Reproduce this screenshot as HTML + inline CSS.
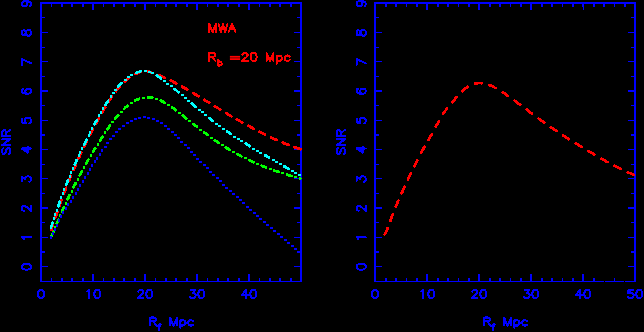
<!DOCTYPE html>
<html><head><meta charset="utf-8">
<title>SNR vs filter radius (MWA, R_b = 20 Mpc)</title>
<style>
html,body{margin:0;padding:0;background:#000;}
body{width:644px;height:332px;overflow:hidden;}
svg{display:block;}
.c{fill:none;stroke-width:2.5;stroke-linecap:round;stroke-linejoin:round;}
.g{fill:none;stroke-width:2.0;stroke-linecap:round;stroke-linejoin:round;}
.h text{font-family:"Liberation Sans",sans-serif;font-weight:bold;font-size:13px;fill:#00f;fill-opacity:0;}
</style></head>
<body>
<svg width="644" height="332" viewBox="0 0 644 332" role="img" aria-label="Two panels of SNR versus filter radius R_f in Mpc for MWA with bubble radius R_b = 20 Mpc">
<defs>
<filter id="th" x="0" y="0" width="644" height="332" filterUnits="userSpaceOnUse" color-interpolation-filters="sRGB">
<feComponentTransfer><feFuncA type="discrete" tableValues="0 1"/></feComponentTransfer>
</filter>
<filter id="tc" x="0" y="0" width="644" height="332" filterUnits="userSpaceOnUse" color-interpolation-filters="sRGB">
<feComponentTransfer><feFuncA type="discrete" tableValues="0 1 1"/></feComponentTransfer>
</filter>
</defs>
<rect x="0" y="0" width="644" height="332" fill="#000"/>
<!-- frames and tick marks -->
<g fill="#00f" shape-rendering="crispEdges">
<rect x="40" y="2" width="262" height="2"/>
<rect x="40" y="281" width="262" height="1"/>
<rect x="40" y="2" width="2" height="280"/>
<rect x="300" y="2" width="2" height="280"/>
<rect x="51" y="4" width="1" height="3"/>
<rect x="51" y="278" width="1" height="3"/>
<rect x="61" y="4" width="2" height="3"/>
<rect x="61" y="278" width="2" height="3"/>
<rect x="71" y="4" width="2" height="3"/>
<rect x="71" y="278" width="2" height="3"/>
<rect x="82" y="4" width="2" height="3"/>
<rect x="82" y="278" width="2" height="3"/>
<rect x="92" y="4" width="2" height="6"/>
<rect x="92" y="274" width="2" height="7"/>
<rect x="103" y="4" width="1" height="3"/>
<rect x="103" y="278" width="1" height="3"/>
<rect x="113" y="4" width="2" height="3"/>
<rect x="113" y="278" width="2" height="3"/>
<rect x="123" y="4" width="2" height="3"/>
<rect x="123" y="278" width="2" height="3"/>
<rect x="134" y="4" width="2" height="3"/>
<rect x="134" y="278" width="2" height="3"/>
<rect x="144" y="4" width="2" height="6"/>
<rect x="144" y="274" width="2" height="7"/>
<rect x="155" y="4" width="1" height="3"/>
<rect x="155" y="278" width="1" height="3"/>
<rect x="165" y="4" width="2" height="3"/>
<rect x="165" y="278" width="2" height="3"/>
<rect x="175" y="4" width="2" height="3"/>
<rect x="175" y="278" width="2" height="3"/>
<rect x="186" y="4" width="2" height="3"/>
<rect x="186" y="278" width="2" height="3"/>
<rect x="196" y="4" width="2" height="6"/>
<rect x="196" y="274" width="2" height="7"/>
<rect x="207" y="4" width="1" height="3"/>
<rect x="207" y="278" width="1" height="3"/>
<rect x="217" y="4" width="2" height="3"/>
<rect x="217" y="278" width="2" height="3"/>
<rect x="227" y="4" width="2" height="3"/>
<rect x="227" y="278" width="2" height="3"/>
<rect x="238" y="4" width="2" height="3"/>
<rect x="238" y="278" width="2" height="3"/>
<rect x="248" y="4" width="2" height="6"/>
<rect x="248" y="274" width="2" height="7"/>
<rect x="259" y="4" width="1" height="3"/>
<rect x="259" y="278" width="1" height="3"/>
<rect x="269" y="4" width="2" height="3"/>
<rect x="269" y="278" width="2" height="3"/>
<rect x="279" y="4" width="2" height="3"/>
<rect x="279" y="278" width="2" height="3"/>
<rect x="290" y="4" width="2" height="3"/>
<rect x="290" y="278" width="2" height="3"/>
<rect x="42" y="266" width="6" height="1"/>
<rect x="294" y="266" width="6" height="1"/>
<rect x="42" y="251" width="3" height="2"/>
<rect x="297" y="251" width="3" height="2"/>
<rect x="42" y="237" width="6" height="1"/>
<rect x="294" y="237" width="6" height="1"/>
<rect x="42" y="222" width="3" height="1"/>
<rect x="297" y="222" width="3" height="1"/>
<rect x="42" y="207" width="6" height="2"/>
<rect x="294" y="207" width="6" height="2"/>
<rect x="42" y="193" width="3" height="1"/>
<rect x="297" y="193" width="3" height="1"/>
<rect x="42" y="178" width="6" height="1"/>
<rect x="294" y="178" width="6" height="1"/>
<rect x="42" y="164" width="3" height="1"/>
<rect x="297" y="164" width="3" height="1"/>
<rect x="42" y="149" width="6" height="1"/>
<rect x="294" y="149" width="6" height="1"/>
<rect x="42" y="134" width="3" height="2"/>
<rect x="297" y="134" width="3" height="2"/>
<rect x="42" y="120" width="6" height="1"/>
<rect x="294" y="120" width="6" height="1"/>
<rect x="42" y="105" width="3" height="1"/>
<rect x="297" y="105" width="3" height="1"/>
<rect x="42" y="90" width="6" height="2"/>
<rect x="294" y="90" width="6" height="2"/>
<rect x="42" y="76" width="3" height="1"/>
<rect x="297" y="76" width="3" height="1"/>
<rect x="42" y="61" width="6" height="1"/>
<rect x="294" y="61" width="6" height="1"/>
<rect x="42" y="47" width="3" height="1"/>
<rect x="297" y="47" width="3" height="1"/>
<rect x="42" y="32" width="6" height="1"/>
<rect x="294" y="32" width="6" height="1"/>
<rect x="42" y="17" width="3" height="1"/>
<rect x="297" y="17" width="3" height="1"/>
<rect x="374" y="2" width="262" height="2"/>
<rect x="374" y="281" width="262" height="1"/>
<rect x="374" y="2" width="2" height="280"/>
<rect x="634" y="2" width="2" height="280"/>
<rect x="385" y="4" width="2" height="3"/>
<rect x="385" y="278" width="2" height="3"/>
<rect x="395" y="4" width="2" height="3"/>
<rect x="395" y="278" width="2" height="3"/>
<rect x="406" y="4" width="1" height="3"/>
<rect x="406" y="278" width="1" height="3"/>
<rect x="416" y="4" width="2" height="3"/>
<rect x="416" y="278" width="2" height="3"/>
<rect x="426" y="4" width="2" height="6"/>
<rect x="426" y="274" width="2" height="7"/>
<rect x="437" y="4" width="2" height="3"/>
<rect x="437" y="278" width="2" height="3"/>
<rect x="447" y="4" width="2" height="3"/>
<rect x="447" y="278" width="2" height="3"/>
<rect x="458" y="4" width="1" height="3"/>
<rect x="458" y="278" width="1" height="3"/>
<rect x="468" y="4" width="2" height="3"/>
<rect x="468" y="278" width="2" height="3"/>
<rect x="478" y="4" width="2" height="6"/>
<rect x="478" y="274" width="2" height="7"/>
<rect x="489" y="4" width="2" height="3"/>
<rect x="489" y="278" width="2" height="3"/>
<rect x="499" y="4" width="2" height="3"/>
<rect x="499" y="278" width="2" height="3"/>
<rect x="510" y="4" width="1" height="3"/>
<rect x="510" y="278" width="1" height="3"/>
<rect x="520" y="4" width="2" height="3"/>
<rect x="520" y="278" width="2" height="3"/>
<rect x="530" y="4" width="2" height="6"/>
<rect x="530" y="274" width="2" height="7"/>
<rect x="541" y="4" width="2" height="3"/>
<rect x="541" y="278" width="2" height="3"/>
<rect x="551" y="4" width="2" height="3"/>
<rect x="551" y="278" width="2" height="3"/>
<rect x="562" y="4" width="1" height="3"/>
<rect x="562" y="278" width="1" height="3"/>
<rect x="572" y="4" width="2" height="3"/>
<rect x="572" y="278" width="2" height="3"/>
<rect x="582" y="4" width="2" height="6"/>
<rect x="582" y="274" width="2" height="7"/>
<rect x="593" y="4" width="2" height="3"/>
<rect x="593" y="278" width="2" height="3"/>
<rect x="603" y="4" width="2" height="3"/>
<rect x="603" y="278" width="2" height="3"/>
<rect x="614" y="4" width="1" height="3"/>
<rect x="614" y="278" width="1" height="3"/>
<rect x="624" y="4" width="2" height="3"/>
<rect x="624" y="278" width="2" height="3"/>
<rect x="376" y="266" width="6" height="1"/>
<rect x="628" y="266" width="6" height="1"/>
<rect x="376" y="251" width="3" height="2"/>
<rect x="631" y="251" width="3" height="2"/>
<rect x="376" y="237" width="6" height="1"/>
<rect x="628" y="237" width="6" height="1"/>
<rect x="376" y="222" width="3" height="1"/>
<rect x="631" y="222" width="3" height="1"/>
<rect x="376" y="207" width="6" height="2"/>
<rect x="628" y="207" width="6" height="2"/>
<rect x="376" y="193" width="3" height="1"/>
<rect x="631" y="193" width="3" height="1"/>
<rect x="376" y="178" width="6" height="1"/>
<rect x="628" y="178" width="6" height="1"/>
<rect x="376" y="164" width="3" height="1"/>
<rect x="631" y="164" width="3" height="1"/>
<rect x="376" y="149" width="6" height="1"/>
<rect x="628" y="149" width="6" height="1"/>
<rect x="376" y="134" width="3" height="2"/>
<rect x="631" y="134" width="3" height="2"/>
<rect x="376" y="120" width="6" height="1"/>
<rect x="628" y="120" width="6" height="1"/>
<rect x="376" y="105" width="3" height="1"/>
<rect x="631" y="105" width="3" height="1"/>
<rect x="376" y="90" width="6" height="2"/>
<rect x="628" y="90" width="6" height="2"/>
<rect x="376" y="76" width="3" height="1"/>
<rect x="631" y="76" width="3" height="1"/>
<rect x="376" y="61" width="6" height="1"/>
<rect x="628" y="61" width="6" height="1"/>
<rect x="376" y="47" width="3" height="1"/>
<rect x="631" y="47" width="3" height="1"/>
<rect x="376" y="32" width="6" height="1"/>
<rect x="628" y="32" width="6" height="1"/>
<rect x="376" y="17" width="3" height="1"/>
<rect x="631" y="17" width="3" height="1"/>
</g>
<g fill="#000" shape-rendering="crispEdges"><rect x="603" y="278" width="2" height="3"/><rect x="604" y="278" width="1" height="4"/><rect x="624" y="278" width="2" height="3"/><rect x="624" y="278" width="1" height="4"/><rect x="582" y="7" width="1" height="3"/></g>
<!-- data curves -->
<g filter="url(#tc)"><path class="c" stroke="#f00" d="M51.3,229.8 L51.6,228.8 L51.9,227.8 L52.2,226.8 L52.6,225.9 L52.9,224.9 L53.2,223.9M55.3,217.6 L55.6,216.6 L55.9,215.7 L56.3,214.7 L56.6,213.7 L56.9,212.7 L57.3,211.8M59.5,205.5 L59.8,204.6 L60.1,203.6 L60.5,202.6 L60.9,201.6 L61.2,200.7 L61.6,199.7M63.9,193.5 L64.2,192.6 L64.6,191.6 L65.0,190.6 L65.4,189.7 L65.7,188.7 L66.1,187.7M68.6,181.6 L69.0,180.6 L69.3,179.7 L69.7,178.7 L70.1,177.8 L70.5,176.8 L70.9,175.9M73.5,169.8 L73.9,168.9 L74.3,167.9 L74.8,167.0 L75.2,166.0 L75.6,165.1 L76.0,164.1M78.7,158.1 L79.2,157.2 L79.6,156.2 L80.0,155.3 L80.5,154.4 L80.9,153.4 L81.4,152.5M84.2,146.6 L84.7,145.6 L85.1,144.7 L85.6,143.8 L86.1,142.8 L86.5,141.9 L87.0,141.0M90.0,135.1 L90.4,134.2 L90.9,133.3 L91.4,132.3 L91.8,131.4 L92.3,130.5 L92.8,129.6M95.9,123.8 L96.4,122.9 L96.9,121.9 L97.3,121.0 L97.8,120.1 L98.3,119.2 L98.8,118.3M102.1,112.6 L102.6,111.7 L103.1,110.8 L103.6,109.9 L104.1,109.0 L104.7,108.1 L105.2,107.2M108.7,101.6 L109.3,100.7 L109.8,99.9 L110.4,99.0 L111.0,98.2 L111.5,97.3 L112.1,96.4M116.0,91.1 L116.7,90.3 L117.3,89.5 L118.0,88.7 L118.6,87.9 L119.3,87.1 L120.0,86.4M124.6,81.6 L125.4,81.0 L126.1,80.3 L126.9,79.6 L127.7,79.0 L128.6,78.3 L129.4,77.7M135.0,74.2 L135.9,73.7 L136.8,73.3 L137.8,72.9 L138.7,72.5 L139.7,72.1 L140.7,71.7M147.0,71.1 L148.0,71.3 L149.0,71.6 L150.0,71.9 L151.0,72.3 L151.9,72.6 L152.9,72.9M159.1,75.2 L160.1,75.6 L161.0,76.0 L162.0,76.4 L162.9,76.8 L163.9,77.3 L164.8,77.7M170.8,80.5 L171.7,81.0 L172.6,81.5 L173.5,81.9 L174.4,82.4 L175.3,82.9 L176.3,83.4M182.0,86.5 L182.9,87.1 L183.8,87.6 L184.7,88.1 L185.6,88.6 L186.5,89.1 L187.4,89.6M193.1,93.0 L194.0,93.5 L194.9,94.1 L195.8,94.6 L196.6,95.1 L197.5,95.7 L198.4,96.2M204.0,99.7 L204.9,100.2 L205.8,100.7 L206.7,101.3 L207.5,101.8 L208.4,102.4 L209.3,102.9M214.9,106.4 L215.8,106.9 L216.7,107.4 L217.6,108.0 L218.5,108.5 L219.4,109.0 L220.2,109.6M225.9,113.0 L226.8,113.5 L227.7,114.0 L228.6,114.6 L229.5,115.1 L230.3,115.6 L231.2,116.1M236.9,119.4 L237.8,120.0 L238.7,120.5 L239.6,121.0 L240.5,121.5 L241.4,122.0 L242.3,122.5M248.1,125.7 L249.0,126.2 L249.9,126.7 L250.8,127.2 L251.7,127.7 L252.6,128.2 L253.5,128.7M259.4,131.7 L260.3,132.2 L261.2,132.7 L262.2,133.1 L263.1,133.6 L264.0,134.1 L264.9,134.5M270.9,137.4 L271.8,137.8 L272.8,138.3 L273.7,138.7 L274.6,139.1 L275.6,139.5 L276.5,140.0M282.6,142.6 L283.5,143.0 L284.5,143.4 L285.5,143.7 L286.4,144.1 L287.4,144.5 L288.3,144.9M294.5,147.2 L295.5,147.5 L296.5,147.8 L297.5,148.2 L298.4,148.5 L299.4,148.8 L300.4,149.1"/></g>
<g filter="url(#tc)"><path class="c" stroke="#0ff" d="M51.0,227.4 L51.4,226.2 L51.8,225.1 L52.1,223.9 L52.5,222.7M58.2,206.2 L58.6,205.0 L59.0,203.9 L59.4,202.7 L59.8,201.6M66.0,185.2 L66.5,184.1 L67.0,182.9 L67.4,181.8 L67.9,180.7M74.7,164.6 L75.2,163.4 L75.7,162.3 L76.2,161.2 L76.7,160.1M84.2,144.3 L84.8,143.2 L85.3,142.1 L85.9,141.0 L86.4,139.9M94.4,124.3 L95.0,123.3 L95.6,122.2 L96.2,121.1 L96.8,120.0M105.5,104.8 L106.1,103.8 L106.8,102.8 L107.4,101.7 L108.1,100.7M118.4,86.6 L119.2,85.7 L120.1,84.8 L120.9,83.9 L121.8,83.0M135.9,72.9 L137.0,72.4 L138.2,72.0 L139.3,71.7 L140.5,71.3M156.9,75.5 L157.9,76.2 L158.9,76.8 L159.9,77.5 L160.9,78.2M174.7,89.0 L175.6,89.8 L176.6,90.6 L177.5,91.4 L178.5,92.2M191.8,103.5 L192.7,104.3 L193.6,105.1 L194.6,105.9 L195.5,106.7M209.0,117.9 L209.9,118.6 L210.9,119.4 L211.9,120.1 L212.8,120.9M226.9,131.2 L228.0,131.9 L229.0,132.6 L230.0,133.3 L231.0,134.0M245.7,143.5 L246.7,144.2 L247.8,144.8 L248.8,145.5 L249.8,146.1M264.9,155.1 L265.9,155.7 L267.0,156.3 L268.1,156.9 L269.1,157.5M284.2,166.3 L285.3,166.9 L286.4,167.5 L287.4,168.2 L288.5,168.8"/></g>
<g fill="#0ff" shape-rendering="crispEdges"><rect x="53" y="217" width="2" height="3"/><rect x="54" y="213" width="2" height="3"/><rect x="56" y="209" width="2" height="3"/><rect x="60" y="196" width="2" height="3"/><rect x="62" y="192" width="2" height="3"/><rect x="63" y="188" width="2" height="3"/><rect x="69" y="175" width="2" height="3"/><rect x="70" y="171" width="2" height="3"/><rect x="72" y="167" width="2" height="3"/><rect x="78" y="154" width="2" height="3"/><rect x="79" y="151" width="2" height="3"/><rect x="81" y="147" width="2" height="3"/><rect x="88" y="134" width="2" height="3"/><rect x="89" y="131" width="2" height="3"/><rect x="91" y="127" width="2" height="3"/><rect x="98" y="114" width="2" height="3"/><rect x="100" y="111" width="2" height="3"/><rect x="102" y="107" width="2" height="3"/><rect x="110" y="95" width="2" height="3"/><rect x="112" y="92" width="3" height="2"/><rect x="114" y="89" width="3" height="2"/><rect x="124" y="79" width="3" height="2"/><rect x="127" y="76" width="3" height="2"/><rect x="130" y="74" width="3" height="2"/><rect x="144" y="70" width="3" height="2"/><rect x="148" y="71" width="3" height="2"/><rect x="151" y="72" width="3" height="2"/><rect x="163" y="80" width="3" height="2"/><rect x="166" y="83" width="3" height="2"/><rect x="170" y="85" width="3" height="2"/><rect x="181" y="94" width="3" height="2"/><rect x="184" y="97" width="3" height="2"/><rect x="187" y="100" width="3" height="2"/><rect x="198" y="109" width="3" height="2"/><rect x="201" y="111" width="3" height="2"/><rect x="204" y="114" width="3" height="2"/><rect x="215" y="123" width="3" height="2"/><rect x="218" y="125" width="3" height="2"/><rect x="222" y="128" width="3" height="2"/><rect x="233" y="136" width="3" height="2"/><rect x="237" y="138" width="3" height="2"/><rect x="240" y="140" width="3" height="2"/><rect x="252" y="148" width="3" height="2"/><rect x="256" y="150" width="3" height="2"/><rect x="259" y="152" width="3" height="2"/><rect x="272" y="159" width="3" height="2"/><rect x="275" y="161" width="3" height="2"/><rect x="279" y="163" width="3" height="2"/><rect x="291" y="170" width="3" height="2"/><rect x="294" y="172" width="3" height="2"/><rect x="298" y="174" width="3" height="2"/></g>
<g filter="url(#tc)"><path class="c" stroke="#0f0" d="M51.7,236.0 L52.1,235.0 L52.5,233.9 L52.9,232.9 L53.4,231.8M56.8,223.6 L57.2,222.6 L57.7,221.5 L58.1,220.5 L58.5,219.5M62.1,211.3 L62.6,210.3 L63.0,209.3 L63.5,208.2 L64.0,207.2M67.7,199.1 L68.2,198.1 L68.7,197.1 L69.1,196.1 L69.6,195.1M73.5,187.1 L74.0,186.1 L74.6,185.1 L75.1,184.1 L75.6,183.1M79.7,175.2 L80.2,174.2 L80.7,173.2 L81.3,172.2 L81.8,171.2M86.1,163.4 L86.7,162.4 L87.2,161.5 L87.8,160.5 L88.4,159.5M92.9,151.8 L93.5,150.9 L94.0,149.9 L94.6,149.0 L95.2,148.0M100.0,140.5 L100.6,139.5 L101.2,138.6 L101.8,137.6 L102.4,136.7M107.4,129.3 L108.0,128.4 L108.7,127.5 L109.3,126.6 L110.0,125.6M115.3,118.5 L116.0,117.7 L116.8,116.8 L117.5,115.9 L118.2,115.1M124.3,108.6 L125.1,107.8 L126.0,107.1 L126.8,106.3 L127.7,105.6M135.0,100.6 L136.0,100.1 L137.1,99.7 L138.1,99.2 L139.1,98.8M147.9,97.3 L149.0,97.4 L150.1,97.4 L151.2,97.6 L152.3,97.8M160.8,100.6 L161.8,101.1 L162.8,101.6 L163.8,102.1 L164.7,102.7M172.2,107.5 L173.1,108.1 L174.0,108.8 L175.0,109.5 L175.9,110.1M182.9,115.6 L183.8,116.3 L184.7,117.0 L185.5,117.7 L186.4,118.4M193.3,124.0 L194.2,124.7 L195.1,125.4 L196.0,126.1 L196.9,126.8M203.9,132.3 L204.8,133.0 L205.7,133.6 L206.6,134.3 L207.5,135.0M214.7,140.2 L215.6,140.8 L216.6,141.4 L217.5,142.0 L218.4,142.7M225.9,147.5 L226.9,148.1 L227.9,148.6 L228.8,149.2 L229.8,149.8M237.5,154.2 L238.5,154.7 L239.5,155.2 L240.5,155.8 L241.5,156.3M249.5,160.3 L250.5,160.7 L251.5,161.2 L252.5,161.7 L253.5,162.2M261.7,165.7 L262.8,166.1 L263.8,166.6 L264.8,167.0 L265.9,167.4M274.2,170.5 L275.3,170.9 L276.3,171.2 L277.4,171.6 L278.5,172.0M287.0,174.7 L288.0,175.0 L289.1,175.3 L290.2,175.6 L291.3,175.9M299.9,178.2 L300.5,178.4"/></g>
<g fill="#0f0" shape-rendering="crispEdges"><rect x="54" y="226" width="2" height="3"/><rect x="59" y="214" width="2" height="3"/><rect x="65" y="202" width="2" height="3"/><rect x="71" y="190" width="2" height="3"/><rect x="77" y="178" width="2" height="3"/><rect x="83" y="166" width="2" height="3"/><rect x="90" y="154" width="2" height="3"/><rect x="97" y="143" width="2" height="3"/><rect x="104" y="131" width="2" height="3"/><rect x="111" y="121" width="3" height="2"/><rect x="120" y="111" width="3" height="2"/><rect x="130" y="102" width="3" height="2"/><rect x="142" y="97" width="3" height="2"/><rect x="155" y="98" width="3" height="2"/><rect x="167" y="104" width="3" height="2"/><rect x="178" y="112" width="3" height="2"/><rect x="188" y="120" width="3" height="2"/><rect x="199" y="129" width="3" height="2"/><rect x="210" y="137" width="3" height="2"/><rect x="221" y="144" width="3" height="2"/><rect x="232" y="151" width="3" height="2"/><rect x="244" y="157" width="3" height="2"/><rect x="256" y="163" width="3" height="2"/><rect x="269" y="168" width="3" height="2"/><rect x="281" y="172" width="3" height="2"/><rect x="294" y="176" width="3" height="2"/></g>
<g fill="#00f" shape-rendering="crispEdges"><rect x="50" y="236" width="2" height="3"/><rect x="52" y="232" width="2" height="3"/><rect x="54" y="228" width="2" height="3"/><rect x="56" y="224" width="2" height="3"/><rect x="58" y="219" width="2" height="3"/><rect x="60" y="215" width="2" height="3"/><rect x="62" y="211" width="2" height="3"/><rect x="65" y="207" width="2" height="3"/><rect x="67" y="203" width="2" height="3"/><rect x="70" y="200" width="2" height="3"/><rect x="72" y="196" width="2" height="3"/><rect x="75" y="192" width="2" height="3"/><rect x="77" y="188" width="2" height="3"/><rect x="79" y="184" width="2" height="3"/><rect x="82" y="180" width="2" height="3"/><rect x="84" y="176" width="2" height="3"/><rect x="87" y="172" width="2" height="3"/><rect x="89" y="168" width="2" height="3"/><rect x="91" y="164" width="2" height="3"/><rect x="94" y="160" width="2" height="3"/><rect x="96" y="157" width="2" height="3"/><rect x="99" y="153" width="2" height="3"/><rect x="101" y="149" width="2" height="3"/><rect x="104" y="146" width="3" height="2"/><rect x="106" y="142" width="3" height="2"/><rect x="109" y="138" width="3" height="2"/><rect x="112" y="135" width="3" height="2"/><rect x="115" y="131" width="3" height="2"/><rect x="118" y="128" width="3" height="2"/><rect x="122" y="125" width="3" height="2"/><rect x="126" y="122" width="3" height="2"/><rect x="130" y="120" width="3" height="2"/><rect x="134" y="118" width="3" height="2"/><rect x="138" y="117" width="3" height="2"/><rect x="143" y="116" width="3" height="2"/><rect x="147" y="117" width="3" height="2"/><rect x="152" y="118" width="3" height="2"/><rect x="156" y="120" width="3" height="2"/><rect x="160" y="122" width="3" height="2"/><rect x="164" y="125" width="3" height="2"/><rect x="167" y="128" width="3" height="2"/><rect x="171" y="131" width="3" height="2"/><rect x="174" y="134" width="3" height="2"/><rect x="177" y="137" width="3" height="2"/><rect x="180" y="141" width="3" height="2"/><rect x="184" y="144" width="3" height="2"/><rect x="187" y="147" width="3" height="2"/><rect x="190" y="151" width="3" height="2"/><rect x="193" y="154" width="3" height="2"/><rect x="196" y="158" width="3" height="2"/><rect x="199" y="161" width="3" height="2"/><rect x="203" y="164" width="3" height="2"/><rect x="206" y="167" width="3" height="2"/><rect x="209" y="171" width="3" height="2"/><rect x="212" y="174" width="3" height="2"/><rect x="216" y="177" width="3" height="2"/><rect x="219" y="180" width="3" height="2"/><rect x="222" y="184" width="3" height="2"/><rect x="225" y="187" width="3" height="2"/><rect x="229" y="190" width="3" height="2"/><rect x="232" y="193" width="3" height="2"/><rect x="236" y="196" width="3" height="2"/><rect x="239" y="199" width="3" height="2"/><rect x="242" y="202" width="3" height="2"/><rect x="246" y="206" width="3" height="2"/><rect x="249" y="209" width="3" height="2"/><rect x="253" y="212" width="3" height="2"/><rect x="256" y="215" width="3" height="2"/><rect x="259" y="218" width="3" height="2"/><rect x="263" y="221" width="3" height="2"/><rect x="266" y="224" width="3" height="2"/><rect x="270" y="227" width="3" height="2"/><rect x="273" y="230" width="3" height="2"/><rect x="277" y="233" width="3" height="2"/><rect x="280" y="236" width="3" height="2"/><rect x="284" y="239" width="3" height="2"/><rect x="287" y="242" width="3" height="2"/><rect x="291" y="245" width="3" height="2"/><rect x="294" y="248" width="3" height="2"/><rect x="298" y="251" width="3" height="2"/></g>
<g filter="url(#tc)"><path class="c" stroke="#f00" d="M384.7,234.4 L385.3,233.4 L385.8,232.4 L386.3,231.4 L386.7,230.4 L387.2,229.3 L387.6,228.3M390.4,220.7 L390.8,219.6 L391.2,218.5 L391.6,217.5 L391.9,216.4 L392.3,215.3 L392.7,214.3M395.7,206.7 L396.1,205.7 L396.6,204.7 L397.0,203.6 L397.5,202.6 L397.9,201.5 L398.4,200.5M401.7,193.1 L402.2,192.1 L402.6,191.0 L403.1,190.0 L403.6,189.0 L404.0,187.9 L404.5,186.9M407.9,179.6 L408.3,178.5 L408.8,177.5 L409.3,176.5 L409.8,175.4 L410.3,174.4 L410.8,173.4M414.3,166.1 L414.8,165.1 L415.3,164.1 L415.8,163.1 L416.3,162.0 L416.8,161.0 L417.3,160.0M421.1,152.9 L421.6,151.9 L422.2,150.9 L422.7,149.9 L423.3,148.9 L423.8,147.9 L424.4,146.9M428.5,139.9 L429.0,138.9 L429.6,137.9 L430.2,137.0 L430.7,136.0 L431.3,135.0 L431.8,134.0M435.7,126.9 L436.2,125.9 L436.8,124.9 L437.3,123.9 L437.9,122.9 L438.4,121.9 L439.0,120.9M443.1,113.9 L443.7,113.0 L444.4,112.1 L445.0,111.1 L445.7,110.2 L446.3,109.3 L447.0,108.4M452.2,102.2 L453.0,101.3 L453.7,100.5 L454.5,99.6 L455.2,98.8 L456.0,97.9 L456.7,97.1M462.3,91.2 L463.1,90.4 L463.9,89.7 L464.8,88.9 L465.7,88.2 L466.6,87.5 L467.5,86.9M474.9,83.6 L476.0,83.4 L477.1,83.2 L478.2,83.1 L479.4,83.1 L480.5,83.1 L481.6,83.2M489.5,85.1 L490.5,85.5 L491.6,86.0 L492.6,86.5 L493.6,86.9 L494.6,87.5 L495.6,88.0M502.6,92.2 L503.5,92.8 L504.5,93.4 L505.4,94.1 L506.3,94.7 L507.3,95.4 L508.2,96.0M514.8,100.7 L515.7,101.4 L516.6,102.1 L517.5,102.7 L518.4,103.4 L519.3,104.1 L520.2,104.8M526.7,109.6 L527.6,110.3 L528.5,111.0 L529.4,111.7 L530.3,112.4 L531.2,113.0 L532.1,113.7M538.6,118.6 L539.6,119.2 L540.5,119.9 L541.4,120.6 L542.3,121.2 L543.2,121.9 L544.1,122.6M550.8,127.2 L551.7,127.8 L552.7,128.5 L553.6,129.1 L554.5,129.7 L555.5,130.4 L556.4,131.0M563.2,135.4 L564.1,136.1 L565.1,136.7 L566.1,137.3 L567.0,137.9 L568.0,138.5 L568.9,139.1M575.8,143.4 L576.8,144.0 L577.7,144.5 L578.7,145.1 L579.7,145.7 L580.7,146.3 L581.6,146.9M588.6,151.1 L589.5,151.6 L590.5,152.2 L591.5,152.8 L592.5,153.4 L593.4,153.9 L594.4,154.5M601.4,158.6 L602.4,159.2 L603.4,159.7 L604.4,160.3 L605.4,160.8 L606.3,161.4 L607.3,162.0M614.5,165.8 L615.5,166.3 L616.5,166.9 L617.5,167.4 L618.5,167.9 L619.5,168.4 L620.5,168.9M627.8,172.3 L628.9,172.8 L629.9,173.2 L631.0,173.7 L632.0,174.1 L633.1,174.5 L634.1,175.0"/></g>
<!-- plotter-font (stroke) lettering -->
<g filter="url(#th)"><path class="g" stroke="#00f" d="M21.87,267.21L22.30,268.44L23.61,269.26L25.78,269.67L27.09,269.67L29.26,269.26L30.57,268.44L31.00,267.21L31.00,266.39L30.57,265.16L29.26,264.34L27.09,263.93L25.78,263.93L23.61,264.34L22.30,265.16L21.87,266.39L21.87,267.21M23.61,239.19L23.17,238.37L21.87,237.14L31.00,237.14M24.04,210.76L23.61,210.76L22.73,210.35L22.30,209.94L21.87,209.12L21.87,207.48L22.30,206.66L22.73,206.25L23.61,205.84L24.48,205.84L25.34,206.25L26.65,207.07L31.00,211.17L31.00,205.43M21.87,181.10L21.87,176.59L25.34,179.05L25.34,177.82L25.78,177.00L26.21,176.59L27.52,176.18L28.39,176.18L29.70,176.59L30.57,177.41L31.00,178.64L31.00,179.87L30.57,181.10L30.13,181.51L29.26,181.92M21.87,148.57L27.95,152.67L27.95,146.52M21.87,148.57L31.00,148.57M21.87,118.50L21.87,122.60L25.78,123.01L25.34,122.60L24.91,121.37L24.91,120.14L25.34,118.91L26.21,118.09L27.52,117.68L28.39,117.68L29.70,118.09L30.57,118.91L31.00,120.14L31.00,121.37L30.57,122.60L30.13,123.01L29.26,123.42M23.17,88.84L22.30,89.25L21.87,90.48L21.87,91.30L22.30,92.53L23.61,93.35L25.78,93.76L27.95,93.76L29.70,93.35L30.57,92.53L31.00,91.30L31.00,90.89L30.57,89.66L29.70,88.84L28.39,88.43L27.95,88.43L26.65,88.84L25.78,89.66L25.34,90.89L25.34,91.30L25.78,92.53L26.65,93.35L27.95,93.76M21.87,59.18L31.00,63.28M21.87,64.92L21.87,59.18M21.87,33.62L22.30,34.85L23.17,35.26L24.04,35.26L24.91,34.85L25.34,34.03L25.78,32.39L26.21,31.16L27.09,30.34L27.95,29.93L29.26,29.93L30.13,30.34L30.57,30.75L31.00,31.98L31.00,33.62L30.57,34.85L30.13,35.26L29.26,35.67L27.95,35.67L27.09,35.26L26.21,34.44L25.78,33.21L25.34,31.57L24.91,30.75L24.04,30.34L23.17,30.34L22.30,30.75L21.87,31.98L21.87,33.62M24.91,1.09L26.21,1.50L27.09,2.32L27.52,3.55L27.52,3.96L27.09,5.19L26.21,6.01L24.91,6.42L24.48,6.42L23.17,6.01L22.30,5.19L21.87,3.96L21.87,3.55L22.30,2.32L23.17,1.50L24.91,1.09L27.09,1.09L29.26,1.50L30.57,2.32L31.00,3.55L31.00,4.37L30.57,5.60L29.70,6.01M3.28,148.09L2.50,148.93L2.11,150.19L2.11,151.87L2.50,153.13L3.28,153.97L4.06,153.97L4.84,153.55L5.23,153.13L5.62,152.29L6.40,149.77L6.79,148.93L7.18,148.51L7.96,148.09L9.13,148.09L9.91,148.93L10.30,150.19L10.30,151.87L9.91,153.13L9.13,153.97M2.11,145.15L10.30,145.15M2.11,145.15L10.30,139.27M2.11,139.27L10.30,139.27M2.11,135.91L10.30,135.91M2.11,135.91L2.11,132.13L2.50,130.87L2.89,130.45L3.67,130.03L4.45,130.03L5.23,130.45L5.62,130.87L6.01,132.13L6.01,135.91M6.01,132.97L10.30,130.03M356.67,267.21L357.10,268.44L358.41,269.26L360.58,269.67L361.88,269.67L364.06,269.26L365.37,268.44L365.80,267.21L365.80,266.39L365.37,265.16L364.06,264.34L361.88,263.93L360.58,263.93L358.41,264.34L357.10,265.16L356.67,266.39L356.67,267.21M358.41,239.19L357.97,238.37L356.67,237.14L365.80,237.14M358.84,210.76L358.41,210.76L357.54,210.35L357.10,209.94L356.67,209.12L356.67,207.48L357.10,206.66L357.54,206.25L358.41,205.84L359.28,205.84L360.15,206.25L361.45,207.07L365.80,211.17L365.80,205.43M356.67,181.10L356.67,176.59L360.15,179.05L360.15,177.82L360.58,177.00L361.01,176.59L362.32,176.18L363.19,176.18L364.50,176.59L365.37,177.41L365.80,178.64L365.80,179.87L365.37,181.10L364.93,181.51L364.06,181.92M356.67,148.57L362.75,152.67L362.75,146.52M356.67,148.57L365.80,148.57M356.67,118.50L356.67,122.60L360.58,123.01L360.15,122.60L359.71,121.37L359.71,120.14L360.15,118.91L361.01,118.09L362.32,117.68L363.19,117.68L364.50,118.09L365.37,118.91L365.80,120.14L365.80,121.37L365.37,122.60L364.93,123.01L364.06,123.42M357.97,88.84L357.10,89.25L356.67,90.48L356.67,91.30L357.10,92.53L358.41,93.35L360.58,93.76L362.75,93.76L364.50,93.35L365.37,92.53L365.80,91.30L365.80,90.89L365.37,89.66L364.50,88.84L363.19,88.43L362.75,88.43L361.45,88.84L360.58,89.66L360.15,90.89L360.15,91.30L360.58,92.53L361.45,93.35L362.75,93.76M356.67,59.18L365.80,63.28M356.67,64.92L356.67,59.18M356.67,33.62L357.10,34.85L357.97,35.26L358.84,35.26L359.71,34.85L360.15,34.03L360.58,32.39L361.01,31.16L361.88,30.34L362.75,29.93L364.06,29.93L364.93,30.34L365.37,30.75L365.80,31.98L365.80,33.62L365.37,34.85L364.93,35.26L364.06,35.67L362.75,35.67L361.88,35.26L361.01,34.44L360.58,33.21L360.15,31.57L359.71,30.75L358.84,30.34L357.97,30.34L357.10,30.75L356.67,31.98L356.67,33.62M359.71,1.09L361.01,1.50L361.88,2.32L362.32,3.55L362.32,3.96L361.88,5.19L361.01,6.01L359.71,6.42L359.28,6.42L357.97,6.01L357.10,5.19L356.67,3.96L356.67,3.55L357.10,2.32L357.97,1.50L359.71,1.09L361.88,1.09L364.06,1.50L365.37,2.32L365.80,3.55L365.80,4.37L365.37,5.60L364.50,6.01M337.98,148.09L337.20,148.93L336.81,150.19L336.81,151.87L337.20,153.13L337.98,153.97L338.76,153.97L339.54,153.55L339.93,153.13L340.32,152.29L341.10,149.77L341.49,148.93L341.88,148.51L342.66,148.09L343.83,148.09L344.61,148.93L345.00,150.19L345.00,151.87L344.61,153.13L343.83,153.97M336.81,145.15L345.00,145.15M336.81,145.15L345.00,139.27M336.81,139.27L345.00,139.27M336.81,135.91L345.00,135.91M336.81,135.91L336.81,132.13L337.20,130.87L337.59,130.45L338.37,130.03L339.15,130.03L339.93,130.45L340.32,130.87L340.71,132.13L340.71,135.91M340.71,132.97L345.00,130.03M40.57,289.92L39.28,290.30L38.42,291.45L37.99,293.38L37.99,294.54L38.42,296.46L39.28,297.62L40.57,298.00L41.43,298.00L42.72,297.62L43.58,296.46L44.01,294.54L44.01,293.38L43.58,291.45L42.72,290.30L41.43,289.92L40.57,289.92M86.98,291.45L87.84,291.07L89.13,289.92L89.13,298.00M96.87,289.92L95.58,290.30L94.72,291.45L94.29,293.38L94.29,294.54L94.72,296.46L95.58,297.62L96.87,298.00L97.73,298.00L99.02,297.62L99.88,296.46L100.31,294.54L100.31,293.38L99.88,291.45L99.02,290.30L97.73,289.92L96.87,289.92M138.12,291.84L138.12,291.45L138.55,290.69L138.98,290.30L139.84,289.92L141.56,289.92L142.42,290.30L142.85,290.69L143.28,291.45L143.28,292.23L142.85,293.00L141.99,294.15L137.69,298.00L143.71,298.00M148.87,289.92L147.58,290.30L146.72,291.45L146.29,293.38L146.29,294.54L146.72,296.46L147.58,297.62L148.87,298.00L149.73,298.00L151.02,297.62L151.88,296.46L152.31,294.54L152.31,293.38L151.88,291.45L151.02,290.30L149.73,289.92L148.87,289.92M190.55,289.92L195.28,289.92L192.70,293.00L193.99,293.00L194.85,293.38L195.28,293.76L195.71,294.92L195.71,295.69L195.28,296.85L194.42,297.62L193.13,298.00L191.84,298.00L190.55,297.62L190.12,297.23L189.69,296.46M200.87,289.92L199.58,290.30L198.72,291.45L198.29,293.38L198.29,294.54L198.72,296.46L199.58,297.62L200.87,298.00L201.73,298.00L203.02,297.62L203.88,296.46L204.31,294.54L204.31,293.38L203.88,291.45L203.02,290.30L201.73,289.92L200.87,289.92M245.99,289.92L241.69,295.31L248.14,295.31M245.99,289.92L245.99,298.00M252.87,289.92L251.58,290.30L250.72,291.45L250.29,293.38L250.29,294.54L250.72,296.46L251.58,297.62L252.87,298.00L253.73,298.00L255.02,297.62L255.88,296.46L256.31,294.54L256.31,293.38L255.88,291.45L255.02,290.30L253.73,289.92L252.87,289.92M150.31,317.52L150.31,325.60M150.31,317.52L154.19,317.52L155.47,317.90L155.91,318.29L156.33,319.06L156.33,319.83L155.91,320.60L155.47,320.98L154.19,321.37L150.31,321.37M153.32,321.37L156.33,325.60M160.85,324.16L160.20,324.16L159.56,324.45L159.24,325.31L159.24,330.22M158.27,326.18L160.53,326.18M170.09,317.52L170.09,325.60M170.09,317.52L173.53,325.60M176.97,317.52L173.53,325.60M176.97,317.52L176.97,325.60M180.41,320.21L180.41,328.30M180.41,321.37L181.28,320.60L182.13,320.21L183.42,320.21L184.28,320.60L185.14,321.37L185.57,322.52L185.57,323.29L185.14,324.45L184.28,325.22L183.42,325.60L182.13,325.60L181.28,325.22L180.41,324.45M193.31,321.37L192.45,320.60L191.59,320.21L190.31,320.21L189.44,320.60L188.58,321.37L188.16,322.52L188.16,323.29L188.58,324.45L189.44,325.22L190.31,325.60L191.59,325.60L192.45,325.22L193.31,324.45M374.57,289.92L373.28,290.30L372.42,291.45L371.99,293.38L371.99,294.54L372.42,296.46L373.28,297.62L374.57,298.00L375.43,298.00L376.72,297.62L377.58,296.46L378.01,294.54L378.01,293.38L377.58,291.45L376.72,290.30L375.43,289.92L374.57,289.92M420.98,291.45L421.84,291.07L423.13,289.92L423.13,298.00M430.87,289.92L429.58,290.30L428.72,291.45L428.29,293.38L428.29,294.54L428.72,296.46L429.58,297.62L430.87,298.00L431.73,298.00L433.02,297.62L433.88,296.46L434.31,294.54L434.31,293.38L433.88,291.45L433.02,290.30L431.73,289.92L430.87,289.92M472.12,291.84L472.12,291.45L472.55,290.69L472.98,290.30L473.84,289.92L475.56,289.92L476.42,290.30L476.85,290.69L477.28,291.45L477.28,292.23L476.85,293.00L475.99,294.15L471.69,298.00L477.71,298.00M482.87,289.92L481.58,290.30L480.72,291.45L480.29,293.38L480.29,294.54L480.72,296.46L481.58,297.62L482.87,298.00L483.73,298.00L485.02,297.62L485.88,296.46L486.31,294.54L486.31,293.38L485.88,291.45L485.02,290.30L483.73,289.92L482.87,289.92M524.55,289.92L529.28,289.92L526.70,293.00L527.99,293.00L528.85,293.38L529.28,293.76L529.71,294.92L529.71,295.69L529.28,296.85L528.42,297.62L527.13,298.00L525.84,298.00L524.55,297.62L524.12,297.23L523.69,296.46M534.87,289.92L533.58,290.30L532.72,291.45L532.29,293.38L532.29,294.54L532.72,296.46L533.58,297.62L534.87,298.00L535.73,298.00L537.02,297.62L537.88,296.46L538.31,294.54L538.31,293.38L537.88,291.45L537.02,290.30L535.73,289.92L534.87,289.92M579.99,289.92L575.69,295.31L582.14,295.31M579.99,289.92L579.99,298.00M586.87,289.92L585.58,290.30L584.72,291.45L584.29,293.38L584.29,294.54L584.72,296.46L585.58,297.62L586.87,298.00L587.73,298.00L589.02,297.62L589.88,296.46L590.31,294.54L590.31,293.38L589.88,291.45L589.02,290.30L587.73,289.92L586.87,289.92M632.85,289.92L628.55,289.92L628.12,293.38L628.55,293.00L629.84,292.61L631.13,292.61L632.42,293.00L633.28,293.76L633.71,294.92L633.71,295.69L633.28,296.85L632.42,297.62L631.13,298.00L629.84,298.00L628.55,297.62L628.12,297.23L627.69,296.46M638.87,289.92L637.58,290.30L636.72,291.45L636.29,293.38L636.29,294.54L636.72,296.46L637.58,297.62L638.87,298.00L639.73,298.00L641.02,297.62L641.88,296.46L642.31,294.54L642.31,293.38L641.88,291.45L641.02,290.30L639.73,289.92L638.87,289.92M484.31,317.52L484.31,325.60M484.31,317.52L488.19,317.52L489.48,317.90L489.91,318.29L490.34,319.06L490.34,319.83L489.91,320.60L489.48,320.98L488.19,321.37L484.31,321.37M487.33,321.37L490.34,325.60M494.85,324.16L494.21,324.16L493.56,324.45L493.24,325.31L493.24,330.22M492.27,326.18L494.53,326.18M504.10,317.52L504.10,325.60M504.10,317.52L507.54,325.60M510.98,317.52L507.54,325.60M510.98,317.52L510.98,325.60M514.42,320.21L514.42,328.30M514.42,321.37L515.27,320.60L516.13,320.21L517.43,320.21L518.28,320.60L519.14,321.37L519.58,322.52L519.58,323.29L519.14,324.45L518.28,325.22L517.43,325.60L516.13,325.60L515.27,325.22L514.42,324.45M527.32,321.37L526.46,320.60L525.60,320.21L524.31,320.21L523.45,320.60L522.59,321.37L522.15,322.52L522.15,323.29L522.59,324.45L523.45,325.22L524.31,325.60L525.60,325.60L526.46,325.22L527.32,324.45"/></g>
<g filter="url(#th)"><path class="g" stroke="#f00" d="M209.22,23.91L209.22,32.00M209.22,23.91L212.66,32.00M216.10,23.91L212.66,32.00M216.10,23.91L216.10,32.00M218.68,23.91L220.83,32.00M222.98,23.91L220.83,32.00M222.98,23.91L225.13,32.00M227.28,23.91L225.13,32.00M232.01,23.91L228.57,32.00M232.01,23.91L235.45,32.00M229.86,29.30L234.16,29.30M209.22,52.91L209.22,61.00M209.22,52.91L213.09,52.91L214.38,53.30L214.81,53.69L215.24,54.45L215.24,55.23L214.81,55.99L214.38,56.38L213.09,56.77L209.22,56.77M212.23,56.77L215.24,61.00M217.82,59.56L217.82,65.62M217.82,62.44L218.47,61.87L219.11,61.58L220.08,61.58L220.72,61.87L221.37,62.44L221.69,63.31L221.69,63.89L221.37,64.75L220.72,65.33L220.08,65.62L219.11,65.62L218.47,65.33L217.82,64.75M242.44,54.84L242.44,54.45L242.87,53.69L243.30,53.30L244.16,52.91L245.88,52.91L246.74,53.30L247.17,53.69L247.60,54.45L247.60,55.23L247.17,55.99L246.31,57.15L242.01,61.00L248.03,61.00M253.19,52.91L251.90,53.30L251.04,54.45L250.61,56.38L250.61,57.53L251.04,59.46L251.90,60.62L253.19,61.00L254.05,61.00L255.34,60.62L256.20,59.46L256.63,57.53L256.63,56.38L256.20,54.45L255.34,53.30L254.05,52.91L253.19,52.91M266.52,52.91L266.52,61.00M266.52,52.91L269.96,61.00M273.40,52.91L269.96,61.00M273.40,52.91L273.40,61.00M276.84,55.61L276.84,63.70M276.84,56.77L277.70,55.99L278.56,55.61L279.85,55.61L280.71,55.99L281.57,56.77L282.00,57.92L282.00,58.69L281.57,59.84L280.71,60.62L279.85,61.00L278.56,61.00L277.70,60.62L276.84,59.84M289.74,56.77L288.88,55.99L288.02,55.61L286.73,55.61L285.87,55.99L285.01,56.77L284.58,57.92L284.58,58.69L285.01,59.84L285.87,60.62L286.73,61.00L288.02,61.00L288.88,60.62L289.74,59.84"/></g>
<rect x="229.9" y="55.9" width="10.2" height="1.75" fill="#f00"/><rect x="229.9" y="58.2" width="10.2" height="1.8" fill="#f00"/>
<!-- selectable text layer (same positions, invisible) -->
<g class="h">
<text transform="translate(31.0,266.5) rotate(-90)" text-anchor="middle">0</text>
<text transform="translate(31.0,237.2) rotate(-90)" text-anchor="middle">1</text>
<text transform="translate(31.0,208.0) rotate(-90)" text-anchor="middle">2</text>
<text transform="translate(31.0,178.8) rotate(-90)" text-anchor="middle">3</text>
<text transform="translate(31.0,149.5) rotate(-90)" text-anchor="middle">4</text>
<text transform="translate(31.0,120.2) rotate(-90)" text-anchor="middle">5</text>
<text transform="translate(31.0,91.0) rotate(-90)" text-anchor="middle">6</text>
<text transform="translate(31.0,61.8) rotate(-90)" text-anchor="middle">7</text>
<text transform="translate(31.0,32.5) rotate(-90)" text-anchor="middle">8</text>
<text transform="translate(31.0,3.2) rotate(-90)" text-anchor="middle">9</text>
<text transform="translate(10.3,142) rotate(-90)" text-anchor="middle">SNR</text>
<text transform="translate(365.8,266.5) rotate(-90)" text-anchor="middle">0</text>
<text transform="translate(365.8,237.2) rotate(-90)" text-anchor="middle">1</text>
<text transform="translate(365.8,208.0) rotate(-90)" text-anchor="middle">2</text>
<text transform="translate(365.8,178.8) rotate(-90)" text-anchor="middle">3</text>
<text transform="translate(365.8,149.5) rotate(-90)" text-anchor="middle">4</text>
<text transform="translate(365.8,120.2) rotate(-90)" text-anchor="middle">5</text>
<text transform="translate(365.8,91.0) rotate(-90)" text-anchor="middle">6</text>
<text transform="translate(365.8,61.8) rotate(-90)" text-anchor="middle">7</text>
<text transform="translate(365.8,32.5) rotate(-90)" text-anchor="middle">8</text>
<text transform="translate(365.8,3.2) rotate(-90)" text-anchor="middle">9</text>
<text transform="translate(345.0,142) rotate(-90)" text-anchor="middle">SNR</text>
<text x="41.0" y="299.0" text-anchor="middle">0</text>
<text x="93.0" y="299.0" text-anchor="middle">10</text>
<text x="145.0" y="299.0" text-anchor="middle">20</text>
<text x="197.0" y="299.0" text-anchor="middle">30</text>
<text x="249.0" y="299.0" text-anchor="middle">40</text>
<text x="148.0" y="326.6">R<tspan font-size="10" dy="4">f</tspan><tspan dy="-4"> Mpc</tspan></text>
<text x="375.0" y="299.0" text-anchor="middle">0</text>
<text x="427.0" y="299.0" text-anchor="middle">10</text>
<text x="479.0" y="299.0" text-anchor="middle">20</text>
<text x="531.0" y="299.0" text-anchor="middle">30</text>
<text x="583.0" y="299.0" text-anchor="middle">40</text>
<text x="635.0" y="299.0" text-anchor="middle">50</text>
<text x="482.0" y="326.6">R<tspan font-size="10" dy="4">f</tspan><tspan dy="-4"> Mpc</tspan></text>
<text x="208.5" y="33.0">MWA</text>
<text x="208.5" y="62.0">R<tspan font-size="10" dy="4">b</tspan><tspan dy="-4"> =20 Mpc</tspan></text>
</g>
</svg>
</body></html>
